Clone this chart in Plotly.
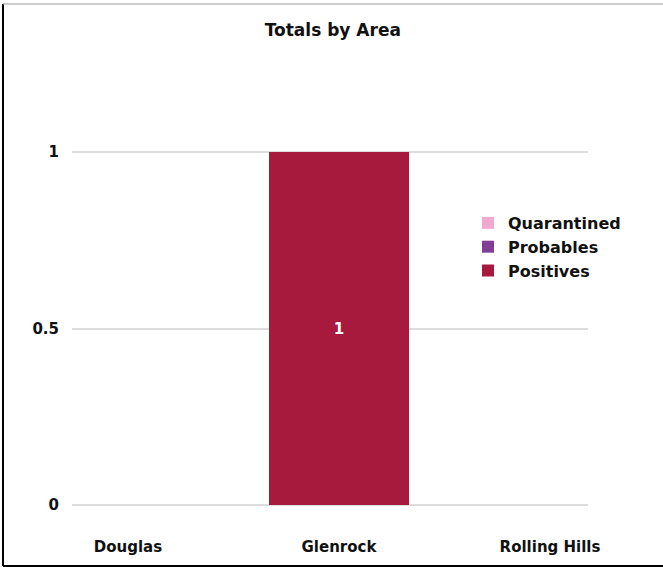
import plotly.graph_objects as go

categories = ["Douglas", "Glenrock", "Rolling Hills"]
quarantined = [0, 0, 0]
probables = [0, 0, 0]
positives = [0, 1, 0]
y_ticks = [0, 0.5, 1]
y_tick_labels = ["0", "0.5", "1"]

colors = {"Quarantined": "#F0AAD2", "Probables": "#803E96", "Positives": "#A8193E"}
FONT = "DejaVu Sans"

W, H = 663, 567
L, R, T, B = 72, 75, 110, 37
PW, PH = W - L - R, H - T - B

def px_x(p):
    return (p - L) / PW

def px_y(p):
    return (H - B - p) / PH

fig = go.Figure()
for name, vals in [("Quarantined", quarantined), ("Probables", probables), ("Positives", positives)]:
    fig.add_trace(go.Bar(
        name=name, x=categories, y=vals,
        marker=dict(color=colors[name], line=dict(width=0)),
        text=[str(v) if v else "" for v in vals],
        textposition="inside", insidetextanchor="middle",
        textfont=dict(family=FONT, size=15, color="white", weight="bold"),
        width=0.66,
    ))

fig.update_layout(
    width=W, height=H,
    margin=dict(l=L, r=R, t=T, b=B),
    paper_bgcolor="white", plot_bgcolor="white",
    barmode="stack",
    title=dict(text="Totals by Area", x=0.502, xanchor="center", y=1 - 30 / H, yanchor="middle",
               yref="container", font=dict(family=FONT, size=17, color="#111", weight="bold")),
    legend=dict(x=px_x(468), y=px_y(206), xanchor="left", yanchor="top", traceorder="normal",
                font=dict(family=FONT, size=16, color="#111", weight="bold"),
                bgcolor="rgba(0,0,0,0)", itemwidth=30, tracegroupgap=0),
    xaxis=dict(type="category", range=[-0.265, 2.18], showgrid=False, zeroline=False, showline=False,
               ticks="", tickfont=dict(family=FONT, size=15, color="#111", weight="bold"),
               ticklabelstandoff=6),
    yaxis=dict(range=[-0.0708, 1.119], tickvals=y_ticks, ticktext=y_tick_labels, showgrid=True,
               gridcolor="#DDDDDD", gridwidth=2, zeroline=False, showline=False, ticks="",
               tickfont=dict(family=FONT, size=15, color="#111", weight="bold"),
               ticklabelstandoff=12),
    shapes=[
        dict(type="line", xref="paper", yref="paper", x0=px_x(3), x1=px_x(3), y0=px_y(4), y1=px_y(566),
             line=dict(color="black", width=2)),
        dict(type="line", xref="paper", yref="paper", x0=px_x(3), x1=px_x(663), y0=px_y(566), y1=px_y(566),
             line=dict(color="black", width=2)),
        dict(type="line", xref="paper", yref="paper", x0=px_x(3), x1=px_x(663), y0=px_y(4), y1=px_y(4),
             line=dict(color="#999999", width=1)),
    ],
)

fig.write_html("out.html", config={"displayModeBar": False},
               post_script="document.body.style.margin='0';document.body.style.overflow='hidden';")
